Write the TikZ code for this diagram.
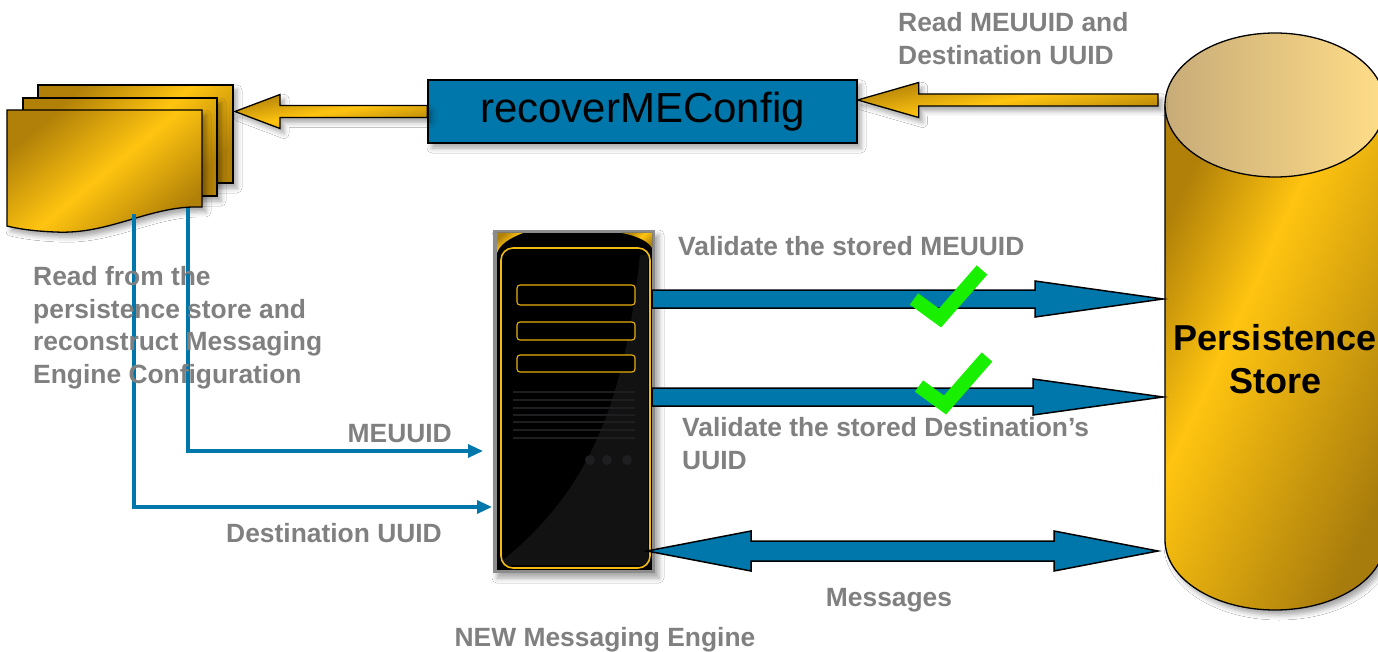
\documentclass[tikz,border=0pt]{standalone}
\usepackage{fontspec}
\setmainfont{Liberation Sans}
\usetikzlibrary{calc,arrows.meta,shadows.blur}

\definecolor{golddark}{RGB}{176,128,8}
\definecolor{golddeep}{RGB}{168,124,12}
\definecolor{goldbright}{RGB}{255,196,16}
\definecolor{meblue}{RGB}{0,119,170}
\definecolor{labelgray}{RGB}{128,128,128}
\definecolor{checkgreen}{RGB}{24,240,0}
\definecolor{captan}{RGB}{200,172,120}
\definecolor{capyellow}{RGB}{255,221,136}
\definecolor{servergray}{RGB}{140,140,140}
\definecolor{ventgray}{RGB}{30,30,32}

% gold band shadings (path spans 25bp..75bp)
\pgfdeclarehorizontalshading{goldband}{100bp}{color(0bp)=(golddark); color(25bp)=(golddark); color(50bp)=(goldbright); color(75bp)=(golddark); color(100bp)=(golddark)}
\pgfdeclarehorizontalshading{goldcyl}{100bp}{color(0bp)=(golddark); color(25bp)=(golddark); color(42bp)=(goldbright); color(75bp)=(golddeep); color(100bp)=(golddeep)}

% horizontal block arrow: tail, tip, shaft half width, head half width, head length
\newcommand{\hblockarrow}[6][]{%
  \path[#1] let \p1=(#2), \p2=(#3), \n1={ifthenelse(\x2>\x1,1,-1)} in
    (\x1,{\y2+#4pt}) -- ({\x2-\n1*#6pt},{\y2+#4pt}) -- ({\x2-\n1*#6pt},{\y2+#5pt})
    -- (\x2,\y2) -- ({\x2-\n1*#6pt},{\y2-#5pt}) -- ({\x2-\n1*#6pt},{\y2-#4pt})
    -- (\x1,{\y2-#4pt}) -- cycle;}
% horizontal double block arrow: left tip, right tip, shaft half, head half, head length
\newcommand{\hdoublearrow}[6][]{%
  \path[#1] let \p1=(#2), \p2=(#3) in
    (\x1,\y1) -- ({\x1+#6pt},{\y1+#5pt}) -- ({\x1+#6pt},{\y1+#4pt}) -- ({\x2-#6pt},{\y1+#4pt})
    -- ({\x2-#6pt},{\y1+#5pt}) -- (\x2,\y1) -- ({\x2-#6pt},{\y1-#5pt}) -- ({\x2-#6pt},{\y1-#4pt})
    -- ({\x1+#6pt},{\y1-#4pt}) -- ({\x1+#6pt},{\y1-#5pt}) -- cycle;}

\begin{document}
\begin{tikzpicture}[x=1pt,y=-1pt,
  label/.style={text=labelgray, font=\fontsize{26.4}{32.4}\selectfont\bfseries, inner sep=0pt, align=left},
  goldfill/.style={shading=goldband, shading angle=-50, draw=black, line width=1.3pt},
  softshadow/.style={blur shadow={shadow xshift=4pt, shadow yshift=-5pt, shadow blur radius=5pt, shadow opacity=35}},
  goldarrow/.style={shading=goldband, shading angle=-80, draw=black, line width=1.3pt, line join=miter, softshadow},
  bluearrow/.style={fill=meblue, draw=black, line width=1.5pt, line join=miter},
  wire/.style={draw=meblue, line width=3.2pt, -{Triangle[length=15pt,width=13pt]}},
  checkmark/.style={draw=checkgreen, line width=14pt}]
\useasboundingbox (0,0) rectangle (1378,652);
\fill[white] (0,0) rectangle (1378,652);
\clip (0,0) rectangle (1378,652);

% ---- stack of configuration documents ----
\path[goldfill, softshadow] (38,85) rectangle (233,183);
\path[goldfill, softshadow] (23,98) rectangle (217,196);
\path[goldfill, softshadow] (7,110) -- (202,110) -- (202,207)
  .. controls (150,205) and (110,235) .. (55,232)
  .. controls (30,231) and (15,228) .. (7,226) -- cycle;
\node[inner sep=0pt, minimum width=226pt, minimum height=147pt] (docs) at (120,158.5) {};
\coordinate (docOutA) at (134,214);
\coordinate (docOutB) at (188,208);

% ---- recoverMEConfig ----
\node[draw=black, line width=1.3pt, fill=meblue, minimum width=429pt, minimum height=63pt,
  inner sep=0pt, font=\fontsize{42}{48}\selectfont, softshadow] (cfg) at (642.5,111.5) {recoverMEConfig};

% ---- persistence store cylinder ----
\node[inner sep=0pt, minimum width=220pt, minimum height=575pt] (store) at (1275,322.5) {};
\path[shading=goldcyl, shading angle=-25, draw=black, line width=1.3pt, softshadow]
  (1165,105) -- (1165,540)
  .. controls (1165,578.7) and (1214.3,610) .. (1275,610)
  .. controls (1335.7,610) and (1385,578.7) .. (1385,540) -- (1385,105) -- cycle;
\path[left color=captan, right color=capyellow, draw=black, line width=1.3pt]
  (1275,105) ellipse [x radius=110, y radius=72];
\node[font=\fontsize{36}{43}\selectfont\bfseries, align=center, inner sep=0pt, anchor=north]
  (storeLabel) at (1275,324) {Persistence\\Store};
\coordinate (storeRead) at (1158,100);
\coordinate (storeA) at (1163,299);
\coordinate (storeB) at (1163,397);
\coordinate (storeM) at (1158,551);

% ---- new messaging engine (tower) ----
\node[fill=servergray, minimum width=162pt, minimum height=343pt, inner sep=0pt, softshadow] (me) at (574,401.5) {};
\fill[black] (497,233) rectangle (652,570);
\fill[black!93] (503,560) .. controls (590,490) and (625,400) .. (640,255) -- (648,255) -- (648,565) -- (503,565) -- cycle;
\fill[shading=goldband, shading angle=-50] (497,233) -- (523,233) .. controls (510,238) and (500,244) .. (497,253) -- cycle;
\fill[shading=goldband, shading angle=-50] (652,233) -- (622,233) .. controls (637,236) and (648,241) .. (652,248) -- cycle;
\draw[draw=goldbright!85!golddark, line width=1.6pt, rounded corners=12pt] (501,248) rectangle (650,568);
\foreach \ya/\yb in {285/305, 322/340, 355/372}
  \draw[draw=goldbright!70!golddark, line width=1.1pt, fill=black, rounded corners=3pt] (517,\ya) rectangle (635,\yb);
\foreach \yv in {392,400,408,415,422,430,438}
  \draw[ventgray, line width=1.6pt] (513,\yv) -- (635,\yv);
\foreach \xd in {590,607,627}
  \fill[ventgray] (\xd,460) circle (5);
\coordinate (meOutA) at (652,299);
\coordinate (meOutB) at (652,397);
\coordinate (meM) at (647,551);
\coordinate (meInA) at (483,451);
\coordinate (meInB) at (492,507);

% ---- gold block arrows ----
\coordinate (docTip) at (235,111.5);
\hblockarrow[goldarrow]{cfg.west}{docTip}{6}{17}{45}
\hblockarrow[goldarrow]{storeRead}{cfg.east |- storeRead}{6}{17.5}{61}

% ---- validation and message arrows ----
\hblockarrow[bluearrow]{meOutA}{storeA}{9}{18}{128}
\hblockarrow[bluearrow]{meOutB}{storeB}{9}{18}{130}
\hdoublearrow[bluearrow]{meM}{storeM}{10}{20}{104}

% ---- check marks ----
\draw[checkmark] (914,299) -- (940,318) -- (982,270);
\draw[checkmark] (919,386) -- (945,405) -- (987,357);

% ---- configuration wires into the engine ----
\draw[wire] (docOutB) |- (meInA);
\draw[wire] (docOutA) |- (meInB);

% ---- labels ----
\node[label, anchor=north west] (lblRead) at (898,12.5) {Read MEUUID and\\Destination UUID};
\node[label, anchor=north west] (lblValA) at (678,236.5) {Validate the stored MEUUID};
\node[label, anchor=north west] (lblRecon) at (33,266.5) {Read from the\\persistence store and\\reconstruct Messaging\\Engine Configuration};
\node[label, anchor=north east] (lblMe) at (452,424.5) {MEUUID};
\node[label, anchor=north west] (lblDest) at (226,523.5) {Destination UUID};
\node[label, anchor=north west] (lblValB) at (682,417.5) {Validate the stored Destination’s\\UUID};
\node[label, anchor=base] (lblMsg) at (889,606.5) {Messages};
\node[label, anchor=base] (lblNew) at (605,646.5) {NEW Messaging Engine};
\end{tikzpicture}
\end{document}
